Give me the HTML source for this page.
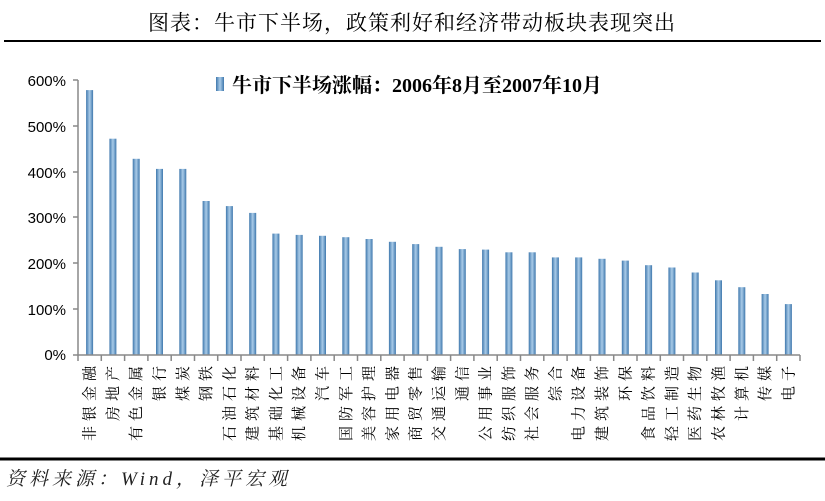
<!DOCTYPE html>
<html><head><meta charset="utf-8"><style>
body{margin:0;background:#fff;}
svg{display:block}
</style></head><body>
<svg width="825" height="501" xmlns="http://www.w3.org/2000/svg">
<defs><linearGradient id="g" x1="0" x2="1" y1="0" y2="0">
<stop offset="0" stop-color="#3f78ad"/><stop offset="0.5" stop-color="#a9cbe8"/><stop offset="1" stop-color="#3f78ad"/></linearGradient></defs>
<rect width="825" height="501" fill="#fff"/>
<text x="412" y="30" text-anchor="middle" font-family="Liberation Serif, Noto Serif CJK SC, serif" font-size="21" fill="#000" letter-spacing="1">图表：牛市下半场，政策利好和经济带动板块表现突出</text>
<line x1="4" y1="41" x2="821" y2="41" stroke="#000" stroke-width="2"/>
<g font-family="Liberation Sans, sans-serif" font-size="15" fill="#000" text-anchor="end">
<text x="66" y="86">600%</text><text x="66" y="132">500%</text><text x="66" y="178">400%</text><text x="66" y="223">300%</text><text x="66" y="269">200%</text><text x="66" y="315">100%</text><text x="66" y="360">0%</text>
</g>
<g fill="url(#g)">
<rect x="86.1" y="90.1" width="7" height="264.9"/>
<rect x="109.4" y="138.7" width="7" height="216.3"/>
<rect x="132.7" y="158.8" width="7" height="196.2"/>
<rect x="156.0" y="168.9" width="7" height="186.1"/>
<rect x="179.3" y="168.9" width="7" height="186.1"/>
<rect x="202.6" y="201.0" width="7" height="154.0"/>
<rect x="225.9" y="206.1" width="7" height="148.9"/>
<rect x="249.2" y="212.9" width="7" height="142.1"/>
<rect x="272.4" y="233.6" width="7" height="121.4"/>
<rect x="295.7" y="234.9" width="7" height="120.1"/>
<rect x="319.0" y="235.8" width="7" height="119.2"/>
<rect x="342.3" y="237.2" width="7" height="117.8"/>
<rect x="365.6" y="239.0" width="7" height="116.0"/>
<rect x="388.9" y="241.8" width="7" height="113.2"/>
<rect x="412.2" y="244.1" width="7" height="110.9"/>
<rect x="435.5" y="246.8" width="7" height="108.2"/>
<rect x="458.8" y="249.1" width="7" height="105.9"/>
<rect x="482.1" y="249.6" width="7" height="105.4"/>
<rect x="505.4" y="252.3" width="7" height="102.7"/>
<rect x="528.7" y="252.3" width="7" height="102.7"/>
<rect x="551.9" y="257.4" width="7" height="97.6"/>
<rect x="575.2" y="257.4" width="7" height="97.6"/>
<rect x="598.5" y="258.8" width="7" height="96.2"/>
<rect x="621.8" y="260.6" width="7" height="94.4"/>
<rect x="645.1" y="265.2" width="7" height="89.8"/>
<rect x="668.4" y="267.5" width="7" height="87.5"/>
<rect x="691.7" y="272.5" width="7" height="82.5"/>
<rect x="715.0" y="280.3" width="7" height="74.7"/>
<rect x="738.3" y="287.2" width="7" height="67.8"/>
<rect x="761.6" y="294.0" width="7" height="61.0"/>
<rect x="784.9" y="304.1" width="7" height="50.9"/>
</g>
<g stroke="#888" stroke-width="1.5">
<line x1="78" y1="80" x2="78" y2="355"/>
<line x1="73" y1="80" x2="78" y2="80"/><line x1="73" y1="126" x2="78" y2="126"/><line x1="73" y1="172" x2="78" y2="172"/><line x1="73" y1="217" x2="78" y2="217"/><line x1="73" y1="263" x2="78" y2="263"/><line x1="73" y1="309" x2="78" y2="309"/>
<line x1="73" y1="355" x2="800" y2="355"/>
<path d="M78 355v6M101.3 355v6M124.6 355v6M147.9 355v6M171.2 355v6M194.5 355v6M217.7 355v6M241.0 355v6M264.3 355v6M287.6 355v6M310.9 355v6M334.2 355v6M357.5 355v6M380.8 355v6M404.1 355v6M427.4 355v6M450.6 355v6M473.9 355v6M497.2 355v6M520.5 355v6M543.8 355v6M567.1 355v6M590.4 355v6M613.7 355v6M637.0 355v6M660.3 355v6M683.5 355v6M706.8 355v6M730.1 355v6M753.4 355v6M776.7 355v6M800 355v6"/>
</g>
<g font-family="Liberation Serif, Noto Serif CJK SC, serif" font-size="15" fill="#000" text-anchor="end" letter-spacing="5">
<text transform="translate(94.6,361) rotate(-90)">非银金融</text>
<text transform="translate(117.9,361) rotate(-90)">房地产</text>
<text transform="translate(141.2,361) rotate(-90)">有色金属</text>
<text transform="translate(164.5,361) rotate(-90)">银行</text>
<text transform="translate(187.8,361) rotate(-90)">煤炭</text>
<text transform="translate(211.1,361) rotate(-90)">钢铁</text>
<text transform="translate(234.4,361) rotate(-90)">石油石化</text>
<text transform="translate(257.7,361) rotate(-90)">建筑材料</text>
<text transform="translate(280.9,361) rotate(-90)">基础化工</text>
<text transform="translate(304.2,361) rotate(-90)">机械设备</text>
<text transform="translate(327.5,361) rotate(-90)">汽车</text>
<text transform="translate(350.8,361) rotate(-90)">国防军工</text>
<text transform="translate(374.1,361) rotate(-90)">美容护理</text>
<text transform="translate(397.4,361) rotate(-90)">家用电器</text>
<text transform="translate(420.7,361) rotate(-90)">商贸零售</text>
<text transform="translate(444.0,361) rotate(-90)">交通运输</text>
<text transform="translate(467.3,361) rotate(-90)">通信</text>
<text transform="translate(490.6,361) rotate(-90)">公用事业</text>
<text transform="translate(513.9,361) rotate(-90)">纺织服饰</text>
<text transform="translate(537.2,361) rotate(-90)">社会服务</text>
<text transform="translate(560.4,361) rotate(-90)">综合</text>
<text transform="translate(583.7,361) rotate(-90)">电力设备</text>
<text transform="translate(607.0,361) rotate(-90)">建筑装饰</text>
<text transform="translate(630.3,361) rotate(-90)">环保</text>
<text transform="translate(653.6,361) rotate(-90)">食品饮料</text>
<text transform="translate(676.9,361) rotate(-90)">轻工制造</text>
<text transform="translate(700.2,361) rotate(-90)">医药生物</text>
<text transform="translate(723.5,361) rotate(-90)">农林牧渔</text>
<text transform="translate(746.8,361) rotate(-90)">计算机</text>
<text transform="translate(770.1,361) rotate(-90)">传媒</text>
<text transform="translate(793.4,361) rotate(-90)">电子</text>
</g>
<rect x="216" y="77" width="8" height="14" fill="url(#g)"/>
<text x="232" y="92" font-family="Liberation Serif, Noto Serif CJK SC, serif" font-size="20" font-weight="bold" fill="#000">牛市下半场涨幅：2006年8月至2007年10月</text>
<line x1="0" y1="459" x2="825" y2="459" stroke="#000" stroke-width="3"/>
<text x="6" y="485" font-family="Liberation Serif, Noto Serif CJK SC, serif" font-size="19" font-style="italic" fill="#222" letter-spacing="4">资料来源：Wind，泽平宏观</text>
</svg>
</body></html>
